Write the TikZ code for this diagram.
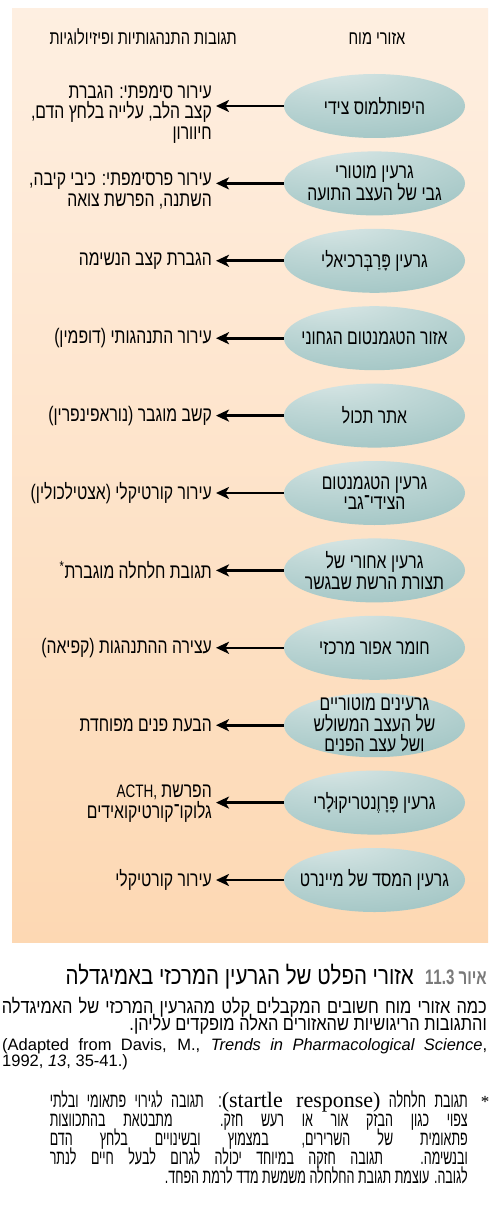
\documentclass[tikz,border=0pt]{standalone}
\usepackage{fontspec}
\setmainfont{Liberation Sans}
\newfontfamily\heb[Script=Hebrew,FakeStretch=0.75]{Liberation Sans}
\newfontfamily\hebtitle[Script=Hebrew,FakeStretch=0.82]{Liberation Sans}
\newfontfamily\hebtitleb[Script=Hebrew,FakeStretch=0.72]{Liberation Sans}
\newfontfamily\hebcap[Script=Hebrew,FakeStretch=0.82]{Liberation Sans}
\newfontfamily\hebfn[Script=Hebrew,FakeStretch=0.61]{Liberation Sans}
\newfontfamily\latserif{Liberation Serif}
\TeXXeTstate=1
\usetikzlibrary{shapes.geometric,arrows.meta}
\definecolor{bgtop}{HTML}{FEEFE1}
\definecolor{bgbot}{HTML}{FDD8B3}
\definecolor{ellA}{HTML}{E0EBEA}
\definecolor{ellB}{HTML}{C2D9D8}
\definecolor{ellC}{HTML}{A3C6C5}
\definecolor{ellD}{HTML}{93BBBA}
\definecolor{capgray}{HTML}{7A7A7A}
\pgfdeclareradialshading{ellshade}{\pgfpoint{-14bp}{36bp}}{color(0bp)=(ellA); color(22bp)=(ellB); color(50bp)=(ellC); color(75bp)=(ellD); color(120bp)=(ellD)}
\newcommand{\R}[1]{\beginR#1\endR}
\newcommand{\dfont}{\heb\fontsize{21}{20.5}\selectfont}
\newcommand{\hfont}{\heb\fontsize{19.5}{20}\selectfont}
\newcommand{\ctitle}{\hebtitle\fontsize{25}{26}\selectfont}
\newcommand{\ctitleb}{\hebtitleb\fontsize{21}{26}\selectfont\bfseries}
\newcommand{\cbody}{\hebcap\fontsize{20}{22}\selectfont}
\newcommand{\clat}{\fontsize{16.5}{18}\selectfont}
\newcommand{\fnfont}{\hebfn\fontsize{20.5}{20}\selectfont}
\begin{document}
\begin{tikzpicture}[x=1pt,y=1pt,
  ell/.style={ellipse, minimum width=181pt, minimum height=64pt, inner sep=0pt, shading=ellshade},
  etext/.style={font=\dfont, align=center, inner sep=0pt},
  resp/.style={font=\dfont, align=right, anchor=east, inner xsep=4pt, inner ysep=0pt},
  arr/.style={line width=2.6pt, -{Stealth[length=13pt,width=12pt,inset=3.5pt]}},
  hdr/.style={font=\hfont, inner sep=0pt, anchor=base},
  capline/.style={inner sep=0pt, anchor=base east},
  latline/.style={inner sep=0pt, anchor=base west, font=\clat},
  fnline/.style={inner sep=0pt, anchor=base east, font=\fnfont}]
\useasboundingbox (0,0) rectangle (498,-1230);
\fill[white] (0,0) rectangle (498,-1230);
\shade[top color=bgtop,bottom color=bgbot] (12,-9) rectangle (488,-942);

\node[hdr] (h1) at (377,-45) {\R{אזורי מוח}};
\node[hdr,anchor=base east] (h2) at (237,-45) {\R{תגובות התנהגותיות ופיזיולוגיות}};

% row 1
\node[ell] (e1) at (374.5,-106) {};
\node[etext] (t1) at (e1) {\R{היפותלמוס צידי}};
\node[resp] (r1) at (216,-114.5) {\R{עירור סימפתי: הגברת}\\\R{קצב הלב, עלייה בלחץ הדם,}\\\R{חיוורון}};
\draw[arr] (e1.west) -- (e1.west -| r1.east);
% row 2
\node[ell] (e2) at (374.5,-183.4) {};
\node[etext] (t2) at (e2) {\R{גרעין מוטורי}\\\R{גבי של העצב התועה}};
\node[resp] (r2) at (216,-191) {\R{עירור פרסימפתי: כיבי קיבה,}\\\R{השתנה, הפרשת צואה}};
\draw[arr] (e2.west) -- (e2.west -| r2.east);
% row 3
\node[ell] (e3) at (374.5,-260.8) {};
\node[etext] (t3) at (e3) {\R{גרעין פָּרַבְּרכיאלי}};
\node[resp] (r3) at (216,-260.8) {\R{הגברת קצב הנשימה}};
\draw[arr] (e3.west) -- (e3.west -| r3.east);
% row 4
\node[ell] (e4) at (374.5,-338.2) {};
\node[etext] (t4) at (e4) {\R{אזור הטגמנטום הגחוני}};
\node[resp] (r4) at (216,-338.2) {\R{עירור התנהגותי (דופמין)}};
\draw[arr] (e4.west) -- (e4.west -| r4.east);
% row 5
\node[ell] (e5) at (374.5,-415.6) {};
\node[etext] (t5) at (e5) {\R{אתר תכול}};
\node[resp] (r5) at (216,-415.6) {\R{קשב מוגבר (נוראפינפרין)}};
\draw[arr] (e5.west) -- (e5.west -| r5.east);
% row 6
\node[ell] (e6) at (374.5,-493) {};
\node[etext] (t6) at (e6) {\R{גרעין הטגמנטום}\\\R{הצידי־גבי}};
\node[resp] (r6) at (216,-493) {\R{עירור קורטיקלי (אצטילכולין)}};
\draw[arr] (e6.west) -- (e6.west -| r6.east);
% row 7
\node[ell] (e7) at (374.5,-570.4) {};
\node[etext] (t7) at (e7) {\R{גרעין אחורי של}\\\R{תצורת הרשת שבגשר}};
\node[resp] (r7) at (216,-570.4) {\R{תגובת חלחלה מוגברת\textsuperscript{*}}};
\draw[arr] (e7.west) -- (e7.west -| r7.east);
% row 8
\node[ell] (e8) at (374.5,-647.8) {};
\node[etext] (t8) at (e8) {\R{חומר אפור מרכזי}};
\node[resp] (r8) at (216,-647.8) {\R{עצירה ההתנהגות (קפיאה)}};
\draw[arr] (e8.west) -- (e8.west -| r8.east);
% row 9
\node[ell] (e9) at (374.5,-725.2) {};
\node[etext] (t9) at (e9) {\R{גרעינים מוטוריים}\\\R{של העצב המשולש}\\\R{ושל עצב הפנים}};
\node[resp] (r9) at (216,-725.2) {\R{הבעת פנים מפוחדת}};
\draw[arr] (e9.west) -- (e9.west -| r9.east);
% row 10
\node[ell] (e10) at (374.5,-802.6) {};
\node[etext] (t10) at (e10) {\R{גרעין פָּרָוֶנטריקוּלָרי}};
\node[resp] (r10) at (216,-803.6) {\R{הפרשת \beginL{\fontsize{18}{20}\selectfont ACTH,}\endL}\\\R{גלוקו־קורטיקואידים}};
\draw[arr] (e10.west) -- (e10.west -| r10.east);
% row 11
\node[ell] (e11) at (374.5,-880) {};
\node[etext] (t11) at (e11) {\R{גרעין המסד של מיינרט}};
\node[resp] (r11) at (216,-880) {\R{עירור קורטיקלי}};
\draw[arr] (e11.west) -- (e11.west -| r11.east);

% caption
\node[capline,font=\ctitleb,text=capgray] (c0) at (487,-984) {\R{איור \beginL 11.3\endL}};
\node[capline,font=\ctitle] (c1) at (414,-984) {\R{אזורי הפלט של הגרעין המרכזי באמיגדלה}};
\node[capline,font=\cbody] (c2) at (487,-1013) {\makebox[485pt][s]{\R{כמה אזורי מוח חשובים המקבלים קלט מהגרעין המרכזי של האמיגדלה}}};
\node[capline,font=\cbody] (c3) at (487,-1030) {\R{והתגובות הריגושיות שהאזורים האלה מופקדים עליהן.}};
\node[latline] (c4) at (2,-1050) {\makebox[485pt][s]{(Adapted from Davis, M., \textit{Trends in Pharmacological Science},}};
\node[latline] (c5) at (2,-1066) {1992, \textit{13}, 35-41.)};

% footnote
\node[inner sep=0pt,anchor=base,font=\latserif\fontsize{17}{18}\selectfont] (fs) at (485,-1107) {*};
\node[fnline] (f1) at (468,-1107) {\makebox[418pt][s]{\R{תגובת חלחלה \beginL{\latserif\fontsize{22}{24}\selectfont (startle response)}\endL: תגובה לגירוי פתאומי ובלתי}}};
\node[fnline] (f2) at (468,-1126) {\makebox[418pt][s]{\R{צפוי כגון הבזק אור או רעש חזק. מתבטאת בהתכווצות}}};
\node[fnline] (f3) at (468,-1145) {\makebox[418pt][s]{\R{פתאומית של השרירים, במצמוץ ובשינויים בלחץ הדם}}};
\node[fnline] (f4) at (468,-1164) {\makebox[418pt][s]{\R{ובנשימה. תגובה חזקה במיוחד יכולה לגרום לבעל חיים לנתר}}};
\node[fnline] (f5) at (468,-1183) {\R{לגובה. עוצמת תגובת החלחלה משמשת מדד לרמת הפחד.}};
\end{tikzpicture}
\end{document}
